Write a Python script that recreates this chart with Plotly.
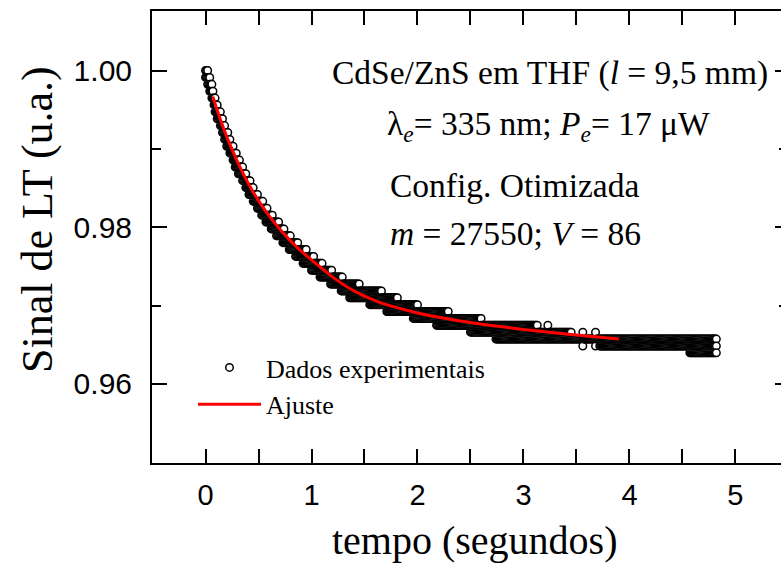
import numpy as np
import plotly.graph_objects as go

# ---------------- data ----------------
# Experimental points: the recorded signal is quantised, so the circles lie in
# horizontal rows.  Each row: signal level, first and last time (s) where
# circles of that row are seen.
band_y = [1.00000, 0.99912, 0.99824, 0.99736, 0.99648, 0.99561, 0.99473,
          0.99385, 0.99297, 0.99209, 0.99121, 0.99033, 0.98945, 0.98857,
          0.98769, 0.98682, 0.98594, 0.98506, 0.98418, 0.98330, 0.98242,
          0.98154, 0.98066, 0.97978, 0.97890, 0.97803, 0.97715, 0.97627,
          0.97539, 0.97451, 0.97363, 0.97275, 0.97187, 0.97099, 0.97011,
          0.96924, 0.96836, 0.96748, 0.96660, 0.96572, 0.96484, 0.96396]
band_start = [0.000, 0.000, 0.015, 0.034, 0.053, 0.071, 0.090, 0.110, 0.132,
              0.154, 0.176, 0.200, 0.226, 0.253, 0.280, 0.310, 0.341, 0.372,
              0.407, 0.443, 0.482, 0.525, 0.569, 0.618, 0.668, 0.724, 0.784,
              0.848, 0.920, 0.996, 1.076, 1.18, 1.28, 1.36, 1.55, 1.71, 1.96,
              2.18, 2.50, 2.74, 3.72, 4.57]
band_end = [0.023, 0.042, 0.061, 0.079, 0.096, 0.118, 0.141, 0.163, 0.185,
            0.210, 0.237, 0.263, 0.290, 0.321, 0.352, 0.384, 0.421, 0.457,
            0.497, 0.541, 0.586, 0.637, 0.690, 0.748, 0.808, 0.874, 0.950,
            1.028, 1.108, 1.190, 1.290, 1.45, 1.66, 1.81, 2.00, 2.29, 2.60,
            3.13, 3.45, 4.82, 4.82, 4.82]
# isolated circles
iso_t = [3.23, 3.56, 3.68, 3.56, 3.68]
iso_y = [0.96748, 0.96660, 0.96660, 0.96484, 0.96484]
sample_dt = 0.01  # spacing of the recorded samples (s)

# Fitted curve (red line)
fit_t = [0.07, 0.10, 0.20, 0.30, 0.40, 0.50, 0.60, 0.70, 0.80, 0.90, 1.00,
         1.20, 1.40, 1.60, 1.80, 2.00, 2.50, 3.00, 3.50, 3.90]
fit_y = [0.99666, 0.99534, 0.99156, 0.98840, 0.98567, 0.98339, 0.98145,
         0.97978, 0.97829, 0.97697, 0.97583, 0.97363, 0.97187, 0.97064,
         0.96976, 0.96906, 0.96783, 0.96695, 0.96625, 0.96572]

x_ticks = [0, 1, 2, 3, 4, 5]
y_ticks = [0.96, 0.98, 1.00]

# ---------------- build the point list ----------------
grid = np.round(np.arange(0, 4.85, sample_dt), 4)
pts_t, pts_y = [], []
for yv, s, e in zip(band_y, band_start, band_end):
    sel = grid[(grid >= s - 1e-9) & (grid <= e + 1e-9)]
    if sel.size == 0:
        sel = np.array([(s + e) / 2])
    pts_t.extend(sel.tolist())
    pts_y.extend([yv] * sel.size)
pts_t.extend(iso_t)
pts_y.extend(iso_y)
order = np.argsort(np.array(pts_t), kind="stable")
pts_t = np.array(pts_t)[order]
pts_y = np.array(pts_y)[order]

# ---------------- layout helpers ----------------
W, H = 781, 565
ML, MR, MT, MB = 152, 0, 11, 102
PW, PH = W - ML - MR, H - MT - MB


def px(xp):
    return (xp - ML) / PW


def py(yp):
    return (H - MB - yp) / PH


SERIF = "Liberation Serif, Times New Roman, serif"
SANS = "Liberation Sans, Arial, sans-serif"

fig = go.Figure()
fig.add_trace(go.Scatter(
    x=pts_t, y=pts_y, mode="markers", name="Dados experimentais",
    marker=dict(symbol="circle", size=7.5, color="white",
                line=dict(color="black", width=1.5)),
))
fig.add_trace(go.Scatter(
    x=fit_t, y=fit_y, mode="lines", name="Ajuste",
    line=dict(color="#ff0000", width=3, shape="spline"),
))
# invisible trace on the right axis so it is drawn
fig.add_trace(go.Scatter(x=[None], y=[None], yaxis="y2", showlegend=False,
                         hoverinfo="skip"))

yr = [0.9499, 1.0076]
fig.update_layout(
    width=W, height=H,
    margin=dict(l=ML, r=MR, t=MT, b=MB, pad=0),
    paper_bgcolor="white", plot_bgcolor="white",
    font=dict(family=SERIF, color="black"),
    xaxis=dict(
        range=[-0.505, 5.43], tickmode="array", tickvals=x_ticks,
        ticktext=[str(v) for v in x_ticks],
        showline=True, linecolor="black", linewidth=2, mirror="allticks",
        ticks="inside", ticklen=14, tickwidth=2, tickcolor="black",
        tickfont=dict(family=SANS, size=29, color="black"),
        ticklabelstandoff=5,
        showgrid=False, zeroline=False,
        minor=dict(ticks="inside", ticklen=8, tickwidth=2, tickcolor="black",
                   tickvals=[-0.5, 0.5, 1.5, 2.5, 3.5, 4.5], showgrid=False),
    ),
    yaxis=dict(
        range=yr, tickmode="array", tickvals=y_ticks,
        ticktext=["%.2f" % v for v in y_ticks],
        showline=True, linecolor="black", linewidth=2, mirror=False,
        ticks="inside", ticklen=15, tickwidth=2, tickcolor="black",
        tickfont=dict(family=SANS, size=30, color="black"),
        ticklabelstandoff=12,
        showgrid=False, zeroline=False,
        minor=dict(ticks="inside", ticklen=9, tickwidth=2, tickcolor="black",
                   tickvals=[0.95, 0.97, 0.99], showgrid=False),
    ),
    yaxis2=dict(
        range=yr, overlaying="y", side="right", tickmode="array",
        tickvals=y_ticks, showticklabels=False, showline=False,
        ticks="inside", ticklen=6, tickwidth=2, tickcolor="black",
        showgrid=False, zeroline=False,
        minor=dict(ticks="inside", ticklen=2, tickwidth=2, tickcolor="black",
                   tickvals=[0.95, 0.97, 0.99], showgrid=False),
    ),
    legend=dict(
        x=px(193), y=py(344), xanchor="left", yanchor="top",
        bgcolor="rgba(0,0,0,0)", borderwidth=0,
        font=dict(family=SERIF, size=26, color="black"),
        itemwidth=63, tracegroupgap=0,
    ),
)

# axis titles
fig.add_annotation(text="tempo (segundos)", xref="paper", yref="paper",
                   x=px(475), y=py(540), xanchor="center", yanchor="middle",
                   showarrow=False,
                   font=dict(family=SERIF, size=40, color="black"))
fig.add_annotation(text="Sinal de LT (u.a.)", xref="paper", yref="paper",
                   x=px(37), y=py(220), xanchor="center", yanchor="middle",
                   textangle=-90, showarrow=False,
                   font=dict(family=SERIF, size=44, color="black"))

ann_font = dict(family=SERIF, size=33.5, color="black")
annotations = [
    ("CdSe/ZnS em THF (<i>l</i> = 9,5 mm)", 330, 73),
    ("λ<sub><i>e</i></sub>= 335 nm; <i>P</i><sub><i>e</i></sub>= 17 μW", 385, 126),
    ("Config. Otimizada", 388, 185),
    ("<i>m</i> = 27550; <i>V</i> = 86", 388, 233),
]
for txt, xp, yp in annotations:
    fig.add_annotation(text=txt, xref="paper", yref="paper", x=px(xp),
                       y=py(yp), xanchor="left", yanchor="middle",
                       showarrow=False, font=ann_font)

fig.write_html("out.html")
